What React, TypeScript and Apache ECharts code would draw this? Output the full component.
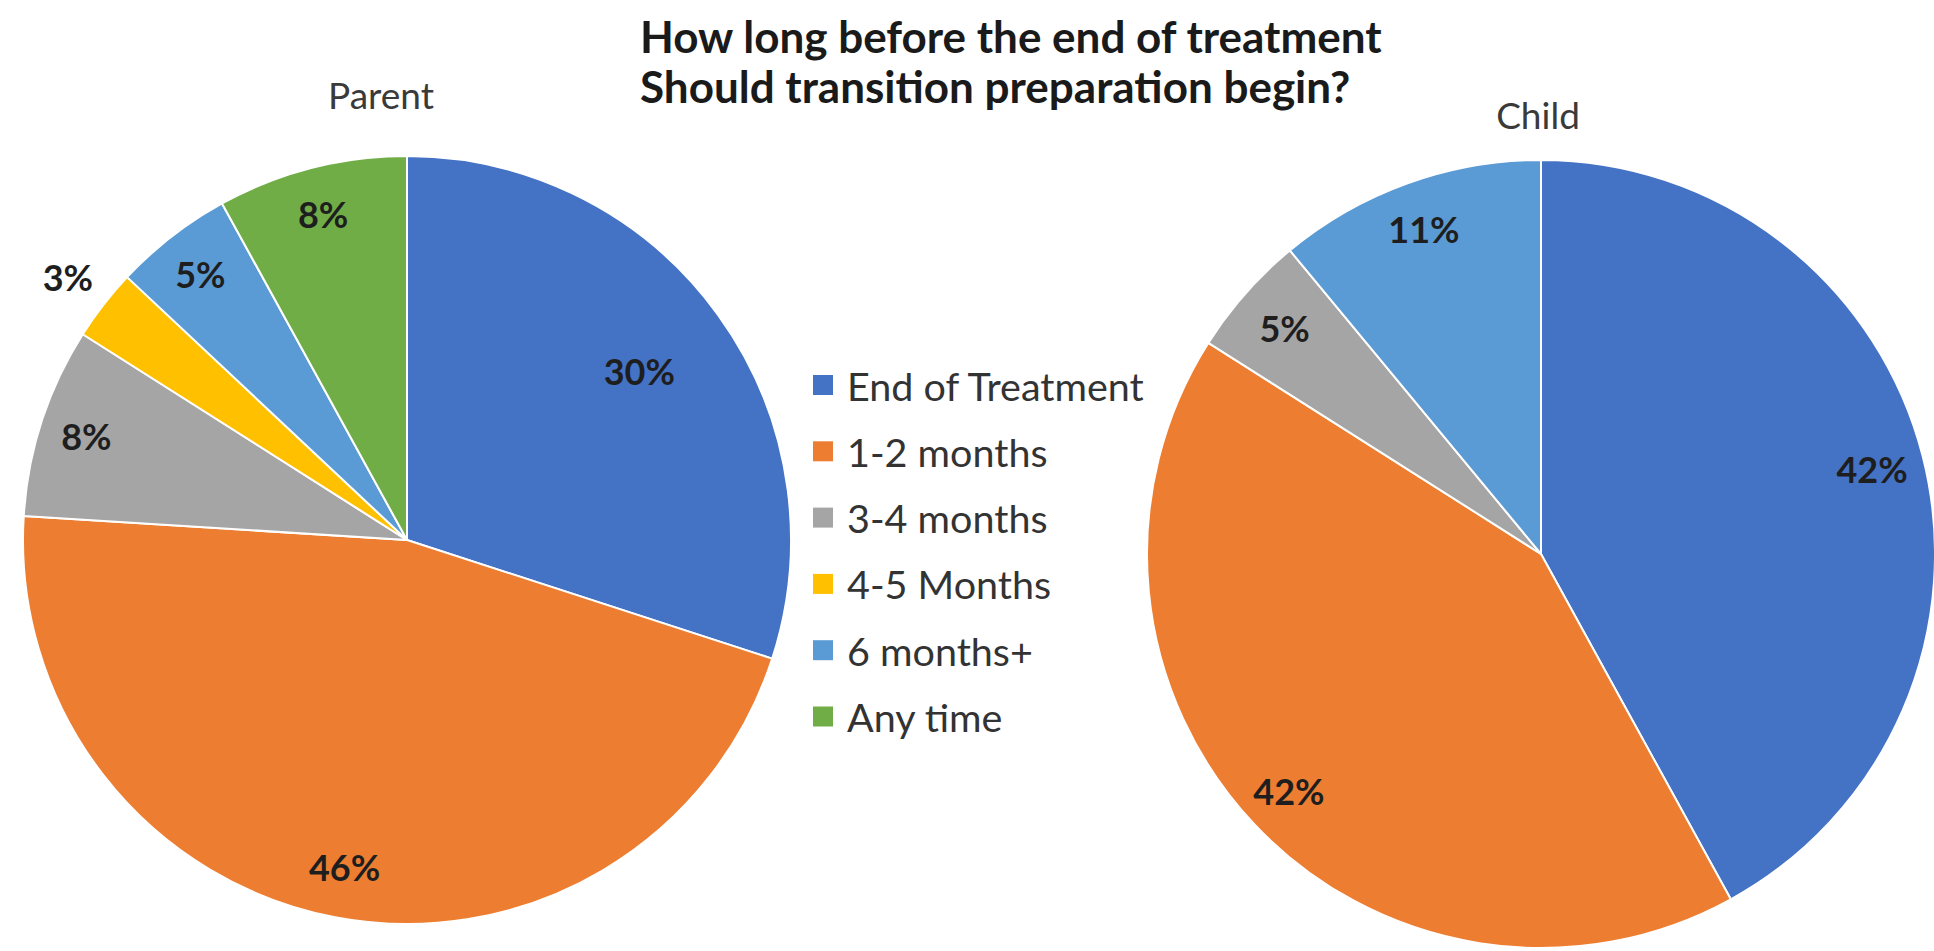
import React, { useEffect, useRef } from "react";
import * as echarts from "echarts";

// ---- data ----
const categories = ["End of Treatment", "1-2 months", "3-4 months", "4-5 Months", "6 months+", "Any time"];
const parentCategories = ["End of Treatment", "1-2 months", "3-4 months", "4-5 Months", "6 months+", "Any time"];
const parentValues = [30, 46, 8, 3, 5, 8];
const childCategories = ["End of Treatment", "1-2 months", "3-4 months", "6 months+"];
const childValues = [42, 42, 5, 11];
const titleLines = ["How long before the end of treatment", "Should transition preparation begin?"];
const pieTitles = ["Parent", "Child"];

// ---- styles / layout ----
const COLORS: Record<string, string> = {
  "End of Treatment": "#4472C4",
  "1-2 months": "#ED7D31",
  "3-4 months": "#A5A5A5",
  "4-5 Months": "#FFC000",
  "6 months+": "#5B9BD5",
  "Any time": "#70AD47",
};
const FONT = "Lato, 'Open Sans', sans-serif";
const PARENT = { cx: 407, cy: 540, r: 384 };
const CHILD = { cx: 1541, cy: 554, r: 394 };
// label distance from centre, as a fraction of the radius, one per slice
const parentLabelPos = [0.74, 0.86, 0.87, 1.11, 0.87, 0.87];
const childLabelPos = [0.86, 0.87, 0.86, 0.87];

function mainPie(id: string, geo: { cx: number; cy: number; r: number }, names: string[], values: number[]) {
  return {
    type: "pie",
    id,
    name: id,
    center: [geo.cx, geo.cy],
    radius: [0, geo.r],
    startAngle: 90,
    clockwise: true,
    avoidLabelOverlap: false,
    label: { show: false },
    labelLine: { show: false },
    emphasis: { disabled: true },
    itemStyle: { borderColor: "#ffffff", borderWidth: 2 },
    data: names.map((n, i) => ({ name: n, value: values[i], itemStyle: { color: COLORS[n] } })),
  };
}

function labelRings(
  id: string,
  geo: { cx: number; cy: number; r: number },
  names: string[],
  values: number[],
  factors: number[]
) {
  const uniq = Array.from(new Set(factors));
  return uniq.map((f) => {
    const inner = f < 1 ? (2 * f - 1) * geo.r : geo.r;
    const outer = f < 1 ? geo.r : (2 * f - 1) * geo.r;
    return {
      type: "pie",
      id: id + "-labels-" + f,
      name: id + "-labels",
      center: [geo.cx, geo.cy],
      radius: [inner, outer],
      startAngle: 90,
      clockwise: true,
      silent: true,
      avoidLabelOverlap: false,
      itemStyle: { color: "transparent", borderWidth: 0 },
      emphasis: { disabled: true },
      labelLine: { show: false },
      label: {
        show: true,
        position: "inside",
        rotate: 0,
        formatter: "{c}%",
        fontFamily: FONT,
        fontSize: 36,
        fontWeight: "bold",
        color: "#1e1e1e",
        textBorderWidth: 0,
      },
      data: names.map((n, i) => ({
        name: n,
        value: values[i],
        itemStyle: { color: "transparent" },
        label: { show: factors[i] === f },
      })),
    };
  });
}

export default function App() {
  const ref = useRef<HTMLDivElement>(null);
  useEffect(() => {
    if (!ref.current) return;
    const chart = echarts.init(ref.current, null, { renderer: "svg" });
    chart.setOption({
      animation: false,
      backgroundColor: "#ffffff",
      title: [
        {
          text: titleLines.join("\n"),
          left: 640,
          top: 11,
          padding: 0,
          textStyle: { fontFamily: FONT, fontSize: 44, fontWeight: "bold", color: "#1a1a1a", lineHeight: 50 },
        },
        {
          text: pieTitles[0],
          left: 381,
          top: 74,
          padding: 0,
          textAlign: "center",
          textStyle: { fontFamily: FONT, fontSize: 37, fontWeight: "normal", color: "#3a3a3a", lineHeight: 40 },
        },
        {
          text: pieTitles[1],
          left: 1538,
          top: 94,
          padding: 0,
          textAlign: "center",
          textStyle: { fontFamily: FONT, fontSize: 37, fontWeight: "normal", color: "#3a3a3a", lineHeight: 40 },
        },
      ],
      legend: {
        orient: "vertical",
        left: 813,
        top: 363,
        padding: 0,
        icon: "rect",
        itemWidth: 20,
        itemHeight: 20,
        itemGap: 22.3,
        selectedMode: false,
        data: categories.map((n) => ({ name: n, itemStyle: { color: COLORS[n], borderWidth: 0 } })),
        textStyle: { fontFamily: FONT, fontSize: 39.5, color: "#333333", lineHeight: 44, padding: [0, 0, 0, 9] },
      },
      series: [
        mainPie("parent", PARENT, parentCategories, parentValues),
        mainPie("child", CHILD, childCategories, childValues),
        ...labelRings("parent", PARENT, parentCategories, parentValues, parentLabelPos),
        ...labelRings("child", CHILD, childCategories, childValues, childLabelPos),
      ],
    });
    return () => chart.dispose();
  }, []);
  return (
    <div
      ref={ref}
      style={{ position: "fixed", left: 0, top: 0, width: "1934px", height: "951px", background: "#fff" }}
    />
  );
}
